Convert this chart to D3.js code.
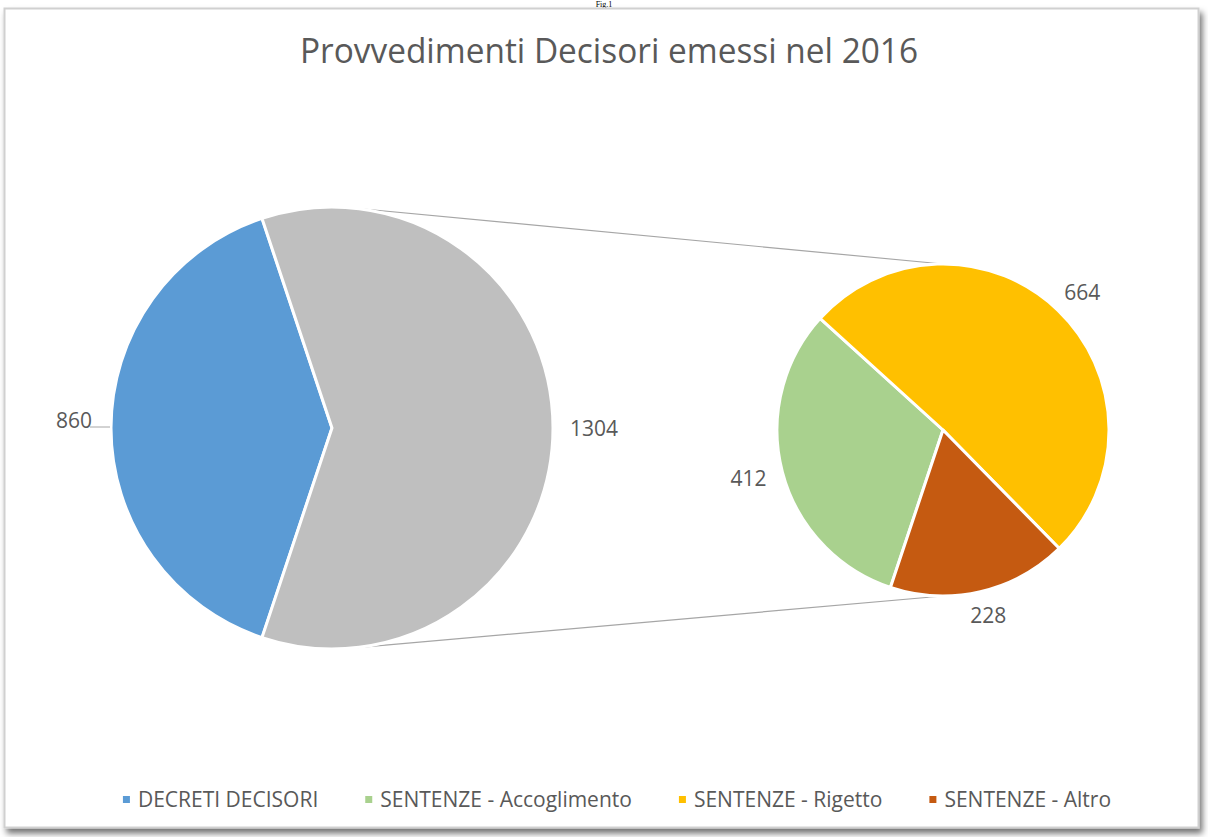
<!DOCTYPE html>
<html>
<head>
<meta charset="utf-8">
<script src="https://cdn.jsdelivr.net/npm/d3@7"></script>
<style>
  body { margin: 0; background: #ffffff; }
  svg { display: block; font-family: "Open Sans", "Noto Sans", sans-serif; }
</style>
</head>
<body>
<div id="chart"></div>
<script>
// data
var mainCategories = ["DECRETI DECISORI", "SENTENZE"];
var mainValues = [860, 1304];
var subCategories = ["SENTENZE - Accoglimento", "SENTENZE - Rigetto", "SENTENZE - Altro"];
var subValues = [412, 664, 228];
var legendLabels = ["DECRETI DECISORI", "SENTENZE - Accoglimento", "SENTENZE - Rigetto", "SENTENZE - Altro"];
var legendColors = ["#5b9bd5", "#a9d18e", "#ffc000", "#c55a11"];
var mainColors = ["#5b9bd5", "#bfbfbf"];
var subColors = ["#a9d18e", "#ffc000", "#c55a11"];

var width = 1208, height = 837;
var textColor = "#595959";

var svg = d3.select("#chart").append("svg")
    .attr("width", width)
    .attr("height", height);

// shadow for the chart frame
var defs = svg.append("defs");
var f = defs.append("filter").attr("id", "shadow")
    .attr("x", "-5%").attr("y", "-5%").attr("width", "110%").attr("height", "110%");
f.append("feDropShadow")
    .attr("dx", 3).attr("dy", 5)
    .attr("stdDeviation", 3)
    .attr("flood-color", "#000")
    .attr("flood-opacity", 0.55);

// caption above the frame
svg.append("text")
    .attr("x", 604).attr("y", 7)
    .attr("text-anchor", "middle")
    .style("font-family", "Liberation Serif, serif")
    .style("font-size", "8px")
    .attr("fill", "#000")
    .text("Fig.1");

svg.append("rect")
    .attr("x", 4.5).attr("y", 8.5)
    .attr("width", 1194).attr("height", 819)
    .attr("fill", "#ffffff")
    .attr("stroke", "#d0d0d0")
    .attr("stroke-width", 2)
    .attr("filter", "url(#shadow)");

// title
svg.append("text")
    .attr("x", 609).attr("y", 63)
    .attr("text-anchor", "middle")
    .attr("textLength", 618)
    .attr("lengthAdjust", "spacingAndGlyphs")
    .style("font-size", "35px")
    .attr("fill", textColor)
    .text("Provvedimenti Decisori emessi nel 2016");

// pie geometry
var main = {cx: 332, cy: 428, r: 221};
var sub = {cx: 943, cy: 430, r: 166};

// Excel centres the "other" slice on the right: start angle from its share
var otherShare = mainValues[1] / d3.sum(mainValues);
var start = Math.PI / 2 + Math.PI * otherShare;

var pie = d3.pie()
    .sort(null)
    .value(function(d) { return d; })
    .startAngle(start)
    .endAngle(start + 2 * Math.PI);

// connector lines: tangent from main circle to top/bottom of the small pie
function tangentPoint(c, px, py, upper) {
    var dx = px - c.cx, dy = py - c.cy, d = Math.hypot(dx, dy);
    var base = Math.atan2(dy, dx);
    var off = Math.acos(c.r / d);
    var a = upper ? base - off : base + off;
    return [c.cx + c.r * Math.cos(a), c.cy + c.r * Math.sin(a)];
}
var topEnd = [sub.cx, sub.cy - sub.r];
var botEnd = [sub.cx, sub.cy + sub.r];
var connectors = [
    [tangentPoint(main, topEnd[0], topEnd[1], true), topEnd],
    [tangentPoint(main, botEnd[0], botEnd[1], false), botEnd]
];
svg.append("g").selectAll("line")
    .data(connectors)
    .enter().append("line")
    .attr("x1", function(d) { return d[0][0]; })
    .attr("y1", function(d) { return d[0][1]; })
    .attr("x2", function(d) { return d[1][0]; })
    .attr("y2", function(d) { return d[1][1]; })
    .attr("stroke", "#a6a6a6")
    .attr("stroke-width", 1.2);

function drawPie(c, values, colors, leaderIndex) {
    var arc = d3.arc().innerRadius(0).outerRadius(c.r);
    var g = svg.append("g")
        .attr("transform", "translate(" + c.cx + "," + c.cy + ")");
    var arcs = pie(values);

    g.selectAll("path")
        .data(arcs)
        .enter().append("path")
        .attr("d", arc)
        .attr("fill", function(d, i) { return colors[i]; })
        .attr("stroke", "#ffffff")
        .attr("stroke-width", 3)
        .attr("stroke-linejoin", "round");

    arcs.forEach(function(d, i) {
        var a = (d.startAngle + d.endAngle) / 2;
        var hasLeader = i === leaderIndex;
        var rr = c.r + (hasLeader ? 19 : 17);
        var px = rr * Math.sin(a), py = -rr * Math.cos(a);
        var t = g.append("text")
            .attr("text-anchor", "middle")
            .style("font-size", "21px")
            .attr("fill", textColor)
            .text(d.value);
        var w = t.node().getComputedTextLength();
        var h = 15;
        var x = px + (w / 2) * Math.sin(a);
        var y = py - (h / 2) * Math.cos(a) + h / 2;
        if (hasLeader) {
            y = py;
            g.append("line")
                .attr("x1", (c.r + 1) * Math.sin(a)).attr("y1", -(c.r + 1) * Math.cos(a) - 1)
                .attr("x2", px + 2 * Math.sin(a)).attr("y2", py - 1)
                .attr("stroke", "#a6a6a6")
                .attr("stroke-width", 1);
        }
        t.attr("x", x).attr("y", y);
    });
}

drawPie(main, mainValues, mainColors, 0);
drawPie(sub, subValues, subColors, -1);

// legend
var legend = svg.append("g");
var items = legend.selectAll("g")
    .data(legendLabels)
    .enter().append("g");
items.append("rect")
    .attr("width", 7).attr("height", 7)
    .attr("y", -4)
    .attr("fill", function(d, i) { return legendColors[i]; });
items.append("text")
    .attr("x", 15)
    .attr("y", 7)
    .style("font-size", "21px")
    .attr("fill", textColor)
    .text(function(d) { return d; });

var gap = 47, xPos = 0, offsets = [];
items.each(function() {
    offsets.push(xPos);
    xPos += this.getBBox().width + gap;
});
var total = xPos - gap;
var legendX = 617 - total / 2;
items.attr("transform", function(d, i) { return "translate(" + (legendX + offsets[i]) + ",800)"; });
</script>
</body>
</html>
